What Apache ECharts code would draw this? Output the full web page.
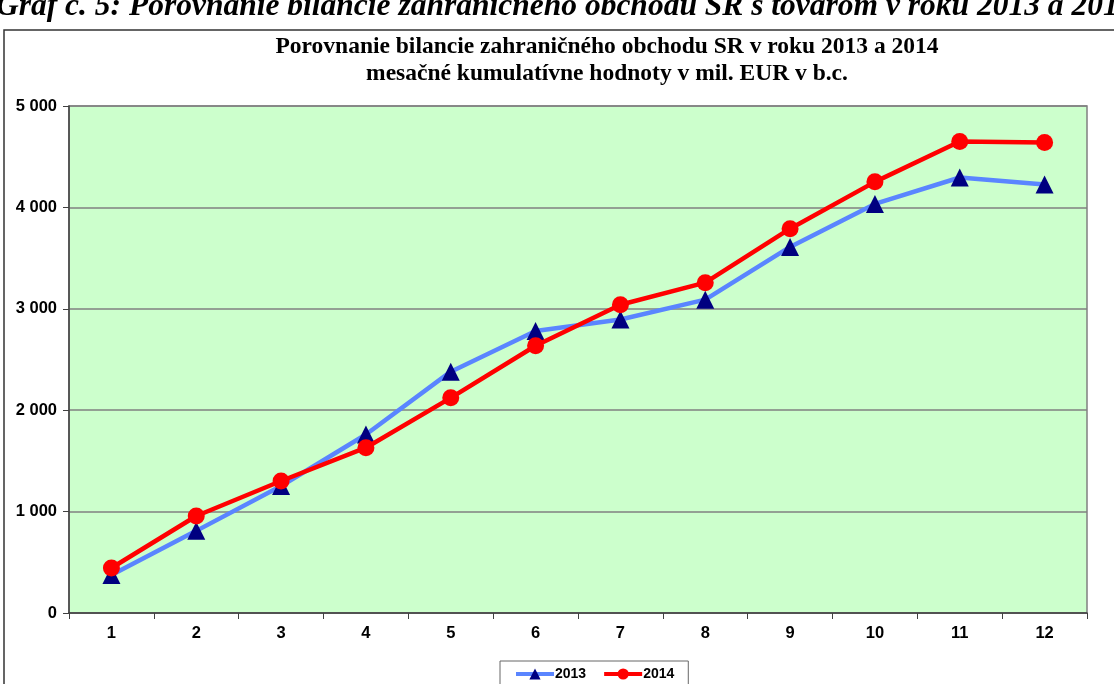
<!DOCTYPE html>
<html>
<head>
<meta charset="utf-8">
<script src="https://cdn.jsdelivr.net/npm/echarts@6/dist/echarts.min.js"></script>
<style>html,body{margin:0;padding:0;background:#fff}#c{width:1114px;height:684px}</style>
</head>
<body>
<div id="c"></div>
<script>
const categories = ['1','2','3','4','5','6','7','8','9','10','11','12'];
const values2013 = [375, 810, 1252, 1760, 2380, 2781, 2895, 3090, 3610, 4034, 4295, 4225];
const values2014 = [444, 957, 1302, 1630, 2122, 2636, 3040, 3258, 3790, 4252, 4650, 4640];
const yTicks = [0, 1000, 2000, 3000, 4000, 5000];
const titleLines = ['Porovnanie bilancie zahraničného obchodu SR v roku 2013 a 2014', 'mesačné kumulatívne hodnoty v mil. EUR v b.c.'];
const caption = 'Graf č. 5: Porovnanie bilancie zahraničného obchodu SR s tovarom v roku 2013 a 2014';

const chart = echarts.init(document.getElementById('c'));
const fmt = v => String(v).replace(/\B(?=(\d{3})+(?!\d))/g, ' ');
chart.setOption({
  backgroundColor: '#ffffff',
  animation: false,
  title: {
    text: titleLines.join('\n'),
    left: 602, top: 28, textAlign: 'center',
    textStyle: {fontFamily: 'Liberation Serif', fontWeight: 'bold', fontSize: 23.5, lineHeight: 27, color: '#000'}
  },
  graphic: [
    {type: 'rect', shape: {x: 4, y: 30, width: 1300, height: 900}, style: {fill: 'none', stroke: '#333', lineWidth: 1.5}, z: 0},
    {type: 'text', x: -4, y: 23, style: {text: caption, font: 'italic bold 31.5px "Liberation Serif"', fill: '#000', verticalAlign: 'bottom', textVerticalAlign: 'bottom'}, z: 10}
  ],
  legend: {
    left: 500, top: 661,
    data: ['2013', '2014'],
    borderColor: '#666', borderWidth: 1,
    padding: [6, 14, 20, 14],
    itemGap: 16, itemWidth: 38, itemHeight: 14,
    lineStyle: {width: 4},
    textStyle: {fontFamily: 'Liberation Sans', fontWeight: 'bold', fontSize: 14, color: '#000', padding: [0, 0, 0, -4]}
  },
  grid: {left: 69, top: 106, right: 27, bottom: 71, show: true, backgroundColor: '#ccffcc', borderColor: '#808080', borderWidth: 1.5},
  xAxis: {
    type: 'category', data: categories, boundaryGap: true,
    axisLine: {lineStyle: {color: '#404040', width: 1.5}},
    axisTick: {show: true, length: 6, lineStyle: {color: '#404040'}},
    axisLabel: {fontFamily: 'Liberation Sans', fontWeight: 'bold', fontSize: 16.5, color: '#000', margin: 12}
  },
  yAxis: {
    type: 'value', min: yTicks[0], max: yTicks[yTicks.length - 1], interval: 1000,
    axisLine: {show: true, lineStyle: {color: '#404040', width: 1.5}},
    axisTick: {show: true, length: 6, lineStyle: {color: '#404040'}},
    splitLine: {lineStyle: {color: '#808080', width: 1.5}},
    axisLabel: {fontFamily: 'Liberation Sans', fontWeight: 'bold', fontSize: 16.5, color: '#000', margin: 12, formatter: v => fmt(v)}
  },
  series: [
    {name: '2013', type: 'line', data: values2013, symbol: 'triangle', symbolSize: 18,
     lineStyle: {color: '#5a85ff', width: 4.5}, itemStyle: {color: '#000080'}, z: 2},
    {name: '2014', type: 'line', data: values2014, symbol: 'circle', symbolSize: 17,
     lineStyle: {color: '#ff0000', width: 4.5}, itemStyle: {color: '#ff0000'}, z: 3}
  ]
});
</script>
</body>
</html>
